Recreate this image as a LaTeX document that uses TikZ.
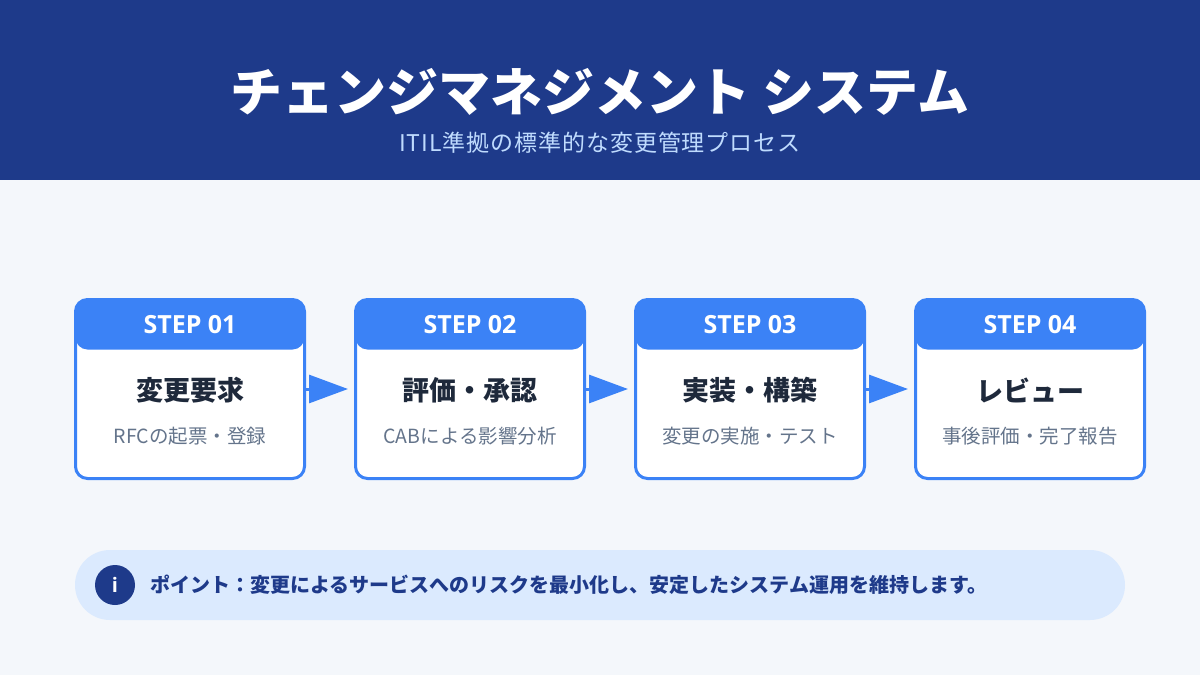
\documentclass[tikz,border=0pt]{standalone}
\usepackage{fontspec}
\setmainfont{Noto Sans CJK JP}
\newfontfamily\latinfont{Open Sans}
\usetikzlibrary{arrows.meta}
\definecolor{hdr}{HTML}{1E3A8A}
\definecolor{bgc}{HTML}{F4F7FB}
\definecolor{subc}{HTML}{BFDBFE}
\definecolor{stepblue}{HTML}{3B82F6}
\definecolor{ttlc}{HTML}{1E293B}
\definecolor{grayc}{HTML}{64748B}
\definecolor{infobg}{HTML}{DBEAFE}
\tikzset{
  stepbox/.style={draw=stepblue, line width=3pt, fill=white, rounded corners=12pt,
    minimum width=229pt, minimum height=179pt, inner sep=0pt,
    path picture={\fill[stepblue] (path picture bounding box.north west) rectangle ([yshift=-50pt]path picture bounding box.north east);}},
  steplabel/.style={text=white, font=\latinfont\bfseries\fontsize{25pt}{29pt}\selectfont},
  steptitle/.style={text=ttlc, font=\bfseries\fontsize{27pt}{31pt}\selectfont},
  stepsub/.style={text=grayc, font=\fontsize{19.5pt}{23pt}\selectfont},
  flow/.style={draw=stepblue, line width=3pt, -{Triangle[length=39pt,width=28pt]}, shorten >=6pt},
}
\begin{document}
\begin{tikzpicture}[x=1pt,y=-1pt]
\useasboundingbox (0,0) rectangle (1200,675);
\fill[bgc] (0,0) rectangle (1200,675);
\fill[hdr] (0,0) rectangle (1200,180);
\node[text=white, font=\bfseries\fontsize{52pt}{60pt}\selectfont] (title) at (600,92) {チェンジマネジメント システム};
\node[text=subc, font=\fontsize{23pt}{27pt}\selectfont\addfontfeatures{LetterSpace=4}] (subtitle) at (600,143) {ITIL準拠の標準的な変更管理プロセス};

\foreach \i/\cx/\lab/\ttl/\sub in {1/190/01/変更要求/RFCの起票・登録, 2/470/02/評価・承認/CABによる影響分析, 3/750/03/実装・構築/変更の実施・テスト, 4/1030/04/レビュー/事後評価・完了報告}{
  \node[stepbox] (s\i) at (\cx,389) {};
  \node[steplabel] (l\i) at (\cx,325) {STEP \lab};
  \node[steptitle] (t\i) at (\cx,390) {\ttl};
  \node[stepsub] (d\i) at (\cx,436) {\sub};
}
\draw[flow] (s1.east) -- (s2.west);
\draw[flow] (s2.east) -- (s3.west);
\draw[flow] (s3.east) -- (s4.west);

\node[fill=infobg, rounded corners=35pt, minimum width=1050pt, minimum height=70pt, inner sep=0pt] (info) at (600,585) {};
\node[circle, fill=hdr, minimum size=40pt, inner sep=0pt, text=white, font=\latinfont\bfseries\fontsize{20pt}{24pt}\selectfont] (icon) at (115,585) {i};
\node[anchor=west, text=hdr, font=\bfseries\fontsize{20pt}{24pt}\selectfont, inner sep=0pt] (infotext) at (150,585) {ポイント：変更によるサービスへのリスクを最小化し、安定したシステム運用を維持します。};
\end{tikzpicture}
\end{document}
